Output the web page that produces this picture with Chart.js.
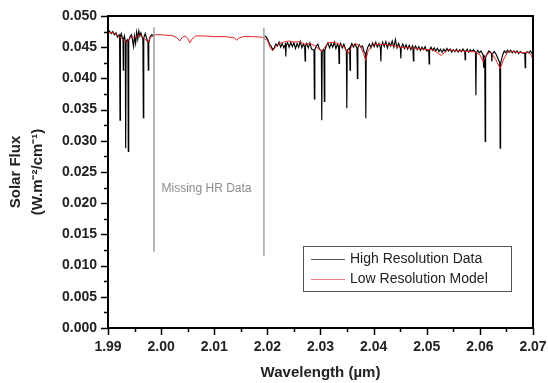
<!DOCTYPE html>
<html>
<head>
<meta charset="utf-8">
<script src="https://cdn.jsdelivr.net/npm/chart.js@4.4.1/dist/chart.umd.min.js"></script>
<style>
html,body{margin:0;padding:0;background:#fff;}
#wrap{width:548px;height:383px;position:relative;}
</style>
</head>
<body>
<div id="wrap"><canvas id="c" width="548" height="383"></canvas></div>
<script>
// ---- Data ----
const xTickLabels = ['1.99','2.00','2.01','2.02','2.03','2.04','2.05','2.06','2.07'];
const yTickLabels = ['0.000','0.005','0.010','0.015','0.020','0.025','0.030','0.035','0.040','0.045','0.050'];

// High resolution data (wavelength in µm), segment before the gap
const hrWavelength1 = [1.9900,1.9903,1.9906,1.9909,1.9912,1.9915,1.9918,1.9921,1.99218,1.99226,1.99234,1.9925,1.9927,1.99282,1.99288,1.99294,1.9931,1.99325,1.99333,1.99341,1.9936,1.99374,1.99382,1.9939,1.9941,1.9944,1.9946,1.9948,1.9950,1.9952,1.9954,1.9956,1.9958,1.9960,1.9962,1.99657,1.99665,1.99673,1.9970,1.9972,1.99751,1.99759,1.99767,1.9979,1.9982,1.9985];
const hrFlux1 = [0.0474,0.0476,0.0472,0.0475,0.0470,0.0473,0.0466,0.0470,0.0468,0.0333,0.0467,0.0472,0.0465,0.0464,0.0413,0.0463,0.0468,0.0460,0.0288,0.0458,0.0462,0.0459,0.0283,0.0460,0.0466,0.0470,0.0462,0.0451,0.0468,0.0456,0.0474,0.0463,0.0476,0.0468,0.0473,0.0462,0.0337,0.0465,0.0472,0.0466,0.0458,0.0413,0.0456,0.0466,0.0470,0.0469];

// High resolution data, segment after the gap
const hrWavelength2 = [2.0195,2.0198,2.0201,2.0204,2.0207,2.0210,2.0213,2.0216,2.0219,2.0222,2.0225,2.0228,2.0231,2.02339,2.02347,2.02355,2.0238,2.0241,2.0244,2.0247,2.0250,2.0253,2.0256,2.0259,2.0262,2.0265,2.0268,2.02702,2.02710,2.02718,2.0274,2.0277,2.0280,2.0283,2.02877,2.02885,2.02893,2.0292,2.0295,2.0298,2.03016,2.03024,2.03032,2.0305,2.03065,2.03073,2.03081,2.0311,2.0314,2.0317,2.0320,2.0323,2.0326,2.0329,2.0332,2.03342,2.03350,2.03358,2.0338,2.0341,2.0344,2.0347,2.03487,2.03495,2.03503,2.03548,2.03556,2.03564,2.0359,2.0362,2.0365,2.03687,2.03695,2.03703,2.0373,2.0376,2.0379,2.0382,2.03845,2.03853,2.03861,2.0389,2.0392,2.0395,2.0398,2.0401,2.0404,2.0407,2.0410,2.04128,2.04136,2.04144,2.0417,2.0420,2.0423,2.0426,2.0429,2.0432,2.0435,2.0438,2.0441,2.0444,2.0447,2.04504,2.04512,2.04520,2.0455,2.0458,2.0461,2.0464,2.0467,2.0470,2.0473,2.04741,2.04749,2.04757,2.0479,2.0482,2.0485,2.0488,2.0491,2.0494,2.0497,2.0500,2.05037,2.05045,2.05053,2.0508,2.0511,2.0514,2.0517,2.0520,2.0523,2.0526,2.0529,2.0532,2.0535,2.0538,2.0541,2.0544,2.0547,2.0550,2.0553,2.0556,2.0559,2.0562,2.0565,2.0568,2.05715,2.05723,2.05731,2.0576,2.0579,2.0582,2.0585,2.0588,2.05917,2.05925,2.05933,2.0596,2.0599,2.0602,2.06060,2.06068,2.06076,2.06092,2.06100,2.06108,2.0614,2.0617,2.06218,2.06226,2.06234,2.0627,2.0631,2.06374,2.06382,2.06390,2.0643,2.0646,2.0649,2.0652,2.0655,2.0658,2.0661,2.0664,2.0667,2.0670,2.0673,2.0676,2.0679,2.06845,2.06853,2.06861,2.0689,2.0692,2.0695,2.0698,2.0700];
const hrFlux2 = [0.0468,0.0466,0.0462,0.0455,0.0452,0.0446,0.0449,0.0455,0.0452,0.0458,0.0450,0.0456,0.0449,0.0455,0.0435,0.0454,0.0457,0.0450,0.0458,0.0451,0.0457,0.0448,0.0456,0.0450,0.0459,0.0449,0.0455,0.0450,0.0428,0.0452,0.0456,0.0449,0.0457,0.0447,0.0445,0.0367,0.0446,0.0452,0.0455,0.0447,0.0444,0.0333,0.0443,0.0446,0.0444,0.0363,0.0445,0.0452,0.0457,0.0449,0.0456,0.0450,0.0458,0.0448,0.0455,0.0450,0.0424,0.0451,0.0456,0.0449,0.0455,0.0447,0.0444,0.0352,0.0445,0.0449,0.0413,0.0450,0.0456,0.0450,0.0455,0.0448,0.0400,0.0449,0.0454,0.0450,0.0452,0.0443,0.0440,0.0336,0.0441,0.0450,0.0455,0.0449,0.0457,0.0451,0.0458,0.0450,0.0456,0.0449,0.0427,0.0450,0.0458,0.0451,0.0459,0.0449,0.0457,0.0452,0.0460,0.0450,0.0462,0.0449,0.0456,0.0448,0.0432,0.0449,0.0455,0.0448,0.0454,0.0447,0.0453,0.0446,0.0452,0.0447,0.0428,0.0447,0.0452,0.0446,0.0451,0.0445,0.0450,0.0446,0.0451,0.0444,0.0445,0.0423,0.0446,0.0450,0.0445,0.0449,0.0444,0.0448,0.0443,0.0447,0.0442,0.0447,0.0443,0.0448,0.0444,0.0447,0.0442,0.0446,0.0443,0.0447,0.0442,0.0446,0.0443,0.0447,0.0443,0.0430,0.0443,0.0447,0.0442,0.0446,0.0443,0.0446,0.0442,0.0373,0.0441,0.0445,0.0441,0.0444,0.0438,0.0417,0.0437,0.0435,0.0299,0.0434,0.0440,0.0444,0.0440,0.0427,0.0439,0.0443,0.0438,0.0425,0.0288,0.0424,0.0438,0.0444,0.0441,0.0445,0.0442,0.0445,0.0441,0.0444,0.0441,0.0444,0.0440,0.0443,0.0441,0.0440,0.0417,0.0439,0.0443,0.0441,0.0444,0.0440,0.0443];

// Low resolution model
const lrWavelength = [1.9900,1.9910,1.9920,1.9930,1.9935,1.9940,1.9945,1.9950,1.9955,1.9960,1.9965,1.9970,1.9975,1.9980,1.9990,2.0000,2.0010,2.0020,2.0030,2.0035,2.0040,2.0045,2.0050,2.0054,2.0058,2.0065,2.0080,2.0100,2.0120,2.0138,2.0142,2.0147,2.0155,2.0170,2.0190,2.0200,2.0205,2.0210,2.0215,2.0220,2.0230,2.0240,2.0250,2.0260,2.0270,2.0280,2.0290,2.0297,2.0302,2.0308,2.0315,2.0325,2.0335,2.0345,2.0352,2.0358,2.0365,2.0375,2.0381,2.0385,2.0390,2.0400,2.0410,2.0420,2.0430,2.0440,2.0450,2.0460,2.0470,2.0480,2.0490,2.0500,2.0510,2.0520,2.0527,2.0533,2.0540,2.0550,2.0560,2.0570,2.0580,2.0590,2.0600,2.0606,2.0612,2.0620,2.0630,2.0638,2.0645,2.0652,2.0660,2.0670,2.0680,2.0690,2.0696,2.0700];
const lrFlux = [0.0474,0.0473,0.0468,0.0461,0.0457,0.0463,0.0467,0.0465,0.0468,0.0470,0.0466,0.0463,0.0458,0.0466,0.0470,0.0470,0.0469,0.0469,0.0465,0.0460,0.0466,0.0468,0.0464,0.0457,0.0463,0.0468,0.0468,0.0467,0.0467,0.0465,0.0461,0.0465,0.0467,0.0467,0.0466,0.0461,0.0450,0.0444,0.0450,0.0455,0.0458,0.0460,0.0458,0.0459,0.0455,0.0456,0.0452,0.0447,0.0443,0.0450,0.0457,0.0458,0.0455,0.0450,0.0440,0.0450,0.0456,0.0452,0.0440,0.0429,0.0445,0.0455,0.0454,0.0455,0.0453,0.0452,0.0450,0.0449,0.0449,0.0448,0.0447,0.0446,0.0446,0.0441,0.0437,0.0441,0.0446,0.0445,0.0444,0.0444,0.0443,0.0443,0.0438,0.0427,0.0437,0.0443,0.0430,0.0416,0.0431,0.0442,0.0443,0.0442,0.0441,0.0442,0.0438,0.0431];

// Gap markers (vertical lines bounding the missing HR data)
const gapMarkerWavelength = [1.99866, 2.01935];
const gapMarkerTop = [0.0482, 0.0481];
const gapMarkerBottom = [0.0122, 0.0115];
const gapLabel = 'Missing HR Data';

const seriesNames = ['High Resolution Data', 'Low Resolution Model'];

// ---- Build datasets ----
const hrPoints = hrWavelength1.map((x,i)=>({x, y: hrFlux1[i]}))
  .concat([{x: 2.009, y: null}])
  .concat(hrWavelength2.map((x,i)=>({x, y: hrFlux2[i]})));
const lrPoints = lrWavelength.map((x,i)=>({x, y: lrFlux[i]}));
const gapPoints = [];
gapMarkerWavelength.forEach((x,i)=>{
  if (i>0) gapPoints.push({x: (x+gapMarkerWavelength[i-1])/2, y: null});
  gapPoints.push({x, y: gapMarkerTop[i]});
  gapPoints.push({x, y: gapMarkerBottom[i]});
});

const FONT = "'Liberation Sans', Arial, sans-serif";

const decorPlugin = {
  id: 'decor',
  afterDatasetsDraw(chart) {
    const ctx = chart.ctx;
    const a = chart.chartArea;
    const xs = chart.scales.x, ys = chart.scales.y;
    ctx.save();
    // gap text
    ctx.fillStyle = '#8c8c8c';
    ctx.font = '12px ' + FONT;
    ctx.textAlign = 'left';
    ctx.textBaseline = 'middle';
    ctx.fillText(gapLabel, xs.getPixelForValue(gapMarkerWavelength[0]) + 7.5, ys.getPixelForValue(0.0224));
    // frame
    ctx.strokeStyle = '#000';
    ctx.lineWidth = 2;
    ctx.strokeRect(a.left, a.top, a.right - a.left, a.bottom - a.top);
    // y ticks
    ctx.lineWidth = 1.5;
    for (let k = 0; k <= 20; k++) {
      const v = k * 0.0025;
      const py = Math.round(ys.getPixelForValue(v)) + 0.5;
      const len = (k % 2 === 0) ? 7 : 4;
      ctx.beginPath(); ctx.moveTo(a.left, py); ctx.lineTo(a.left - len, py); ctx.stroke();
    }
    // x ticks
    for (let k = 0; k <= 16; k++) {
      const v = 1.99 + k * 0.005;
      const px = Math.round(xs.getPixelForValue(v)) + 0.5;
      const len = (k % 2 === 0) ? 7 : 4;
      ctx.beginPath(); ctx.moveTo(px, a.bottom); ctx.lineTo(px, a.bottom + len); ctx.stroke();
    }
    // legend
    const bx = a.right - 230, by = a.bottom - 82, bw = 208, bh = 45;
    ctx.fillStyle = '#fff';
    ctx.fillRect(bx, by, bw, bh);
    ctx.strokeStyle = '#555';
    ctx.lineWidth = 1;
    ctx.strokeRect(bx + 0.5, by + 0.5, bw, bh);
    ctx.font = '14px ' + FONT;
    ctx.textBaseline = 'middle';
    seriesNames.forEach((name, i) => {
      const d = chart.data.datasets.find(ds => ds.label === name);
      const yy = by + 13 + i * 20;
      ctx.strokeStyle = d.legendColor;
      ctx.lineWidth = 1;
      ctx.beginPath(); ctx.moveTo(bx + 8, yy + 0.5); ctx.lineTo(bx + 42, yy + 0.5); ctx.stroke();
      ctx.fillStyle = '#222';
      ctx.fillText(d.label, bx + 47, yy);
    });
    ctx.restore();
  }
};

new Chart(document.getElementById('c'), {
  type: 'scatter',
  data: {
    datasets: [
      { label: 'gap', data: gapPoints, showLine: true, spanGaps: false, borderColor: '#a0a0a0', borderWidth: 1.5, pointRadius: 0 },
      { label: seriesNames[1], data: lrPoints, showLine: true, borderColor: '#e0242a', legendColor: '#f07a7e', borderWidth: 1, pointRadius: 0, tension: 0 },
      { label: seriesNames[0], data: hrPoints, showLine: true, spanGaps: false, borderColor: '#000', legendColor: '#555', borderWidth: 1.15, pointRadius: 0 }
    ]
  },
  options: {
    responsive: false,
    animation: false,
    layout: { padding: { top: 16, right: 15, left: 0, bottom: 0 } },
    plugins: { legend: { display: false }, tooltip: { enabled: false } },
    scales: {
      x: {
        type: 'linear', min: 1.99, max: 2.07,
        grid: { display: false, drawTicks: false },
        border: { display: false },
        ticks: { stepSize: 0.01, padding: 11, color: '#222', font: { family: FONT, size: 14, weight: 'bold' },
          maxRotation: 0, autoSkip: false,
          callback: (v) => { const i = Math.round((v - 1.99) / 0.01); return xTickLabels[i]; } },
        title: { display: true, text: 'Wavelength (\u00b5m)', color: '#222', font: { family: FONT, size: 15, weight: 'bold', lineHeight: 1.1 }, padding: { top: 0, bottom: 2 } },
        afterFit: (s) => { s.height = 55; s.paddingLeft = 0; s.paddingRight = 0; }
      },
      y: {
        type: 'linear', min: 0, max: 0.05,
        grid: { display: false, drawTicks: false },
        border: { display: false },
        ticks: { stepSize: 0.005, padding: 11, color: '#222', font: { family: FONT, size: 14, weight: 'bold' },
          callback: (v) => { const i = Math.round(v / 0.005); return yTickLabels[i]; } },
        title: { display: true, text: ['Solar Flux', '(W.m\u207B\u00B2/cm\u207B\u00B9)'], color: '#222', font: { family: FONT, size: 15, weight: 'bold', lineHeight: 1.47 }, padding: { top: 5, bottom: 0 } },
        afterFit: (s) => { s.width = 108; s.paddingTop = 0; s.paddingBottom = 0; }
      }
    }
  },
  plugins: [decorPlugin]
});
</script>
</body>
</html>
